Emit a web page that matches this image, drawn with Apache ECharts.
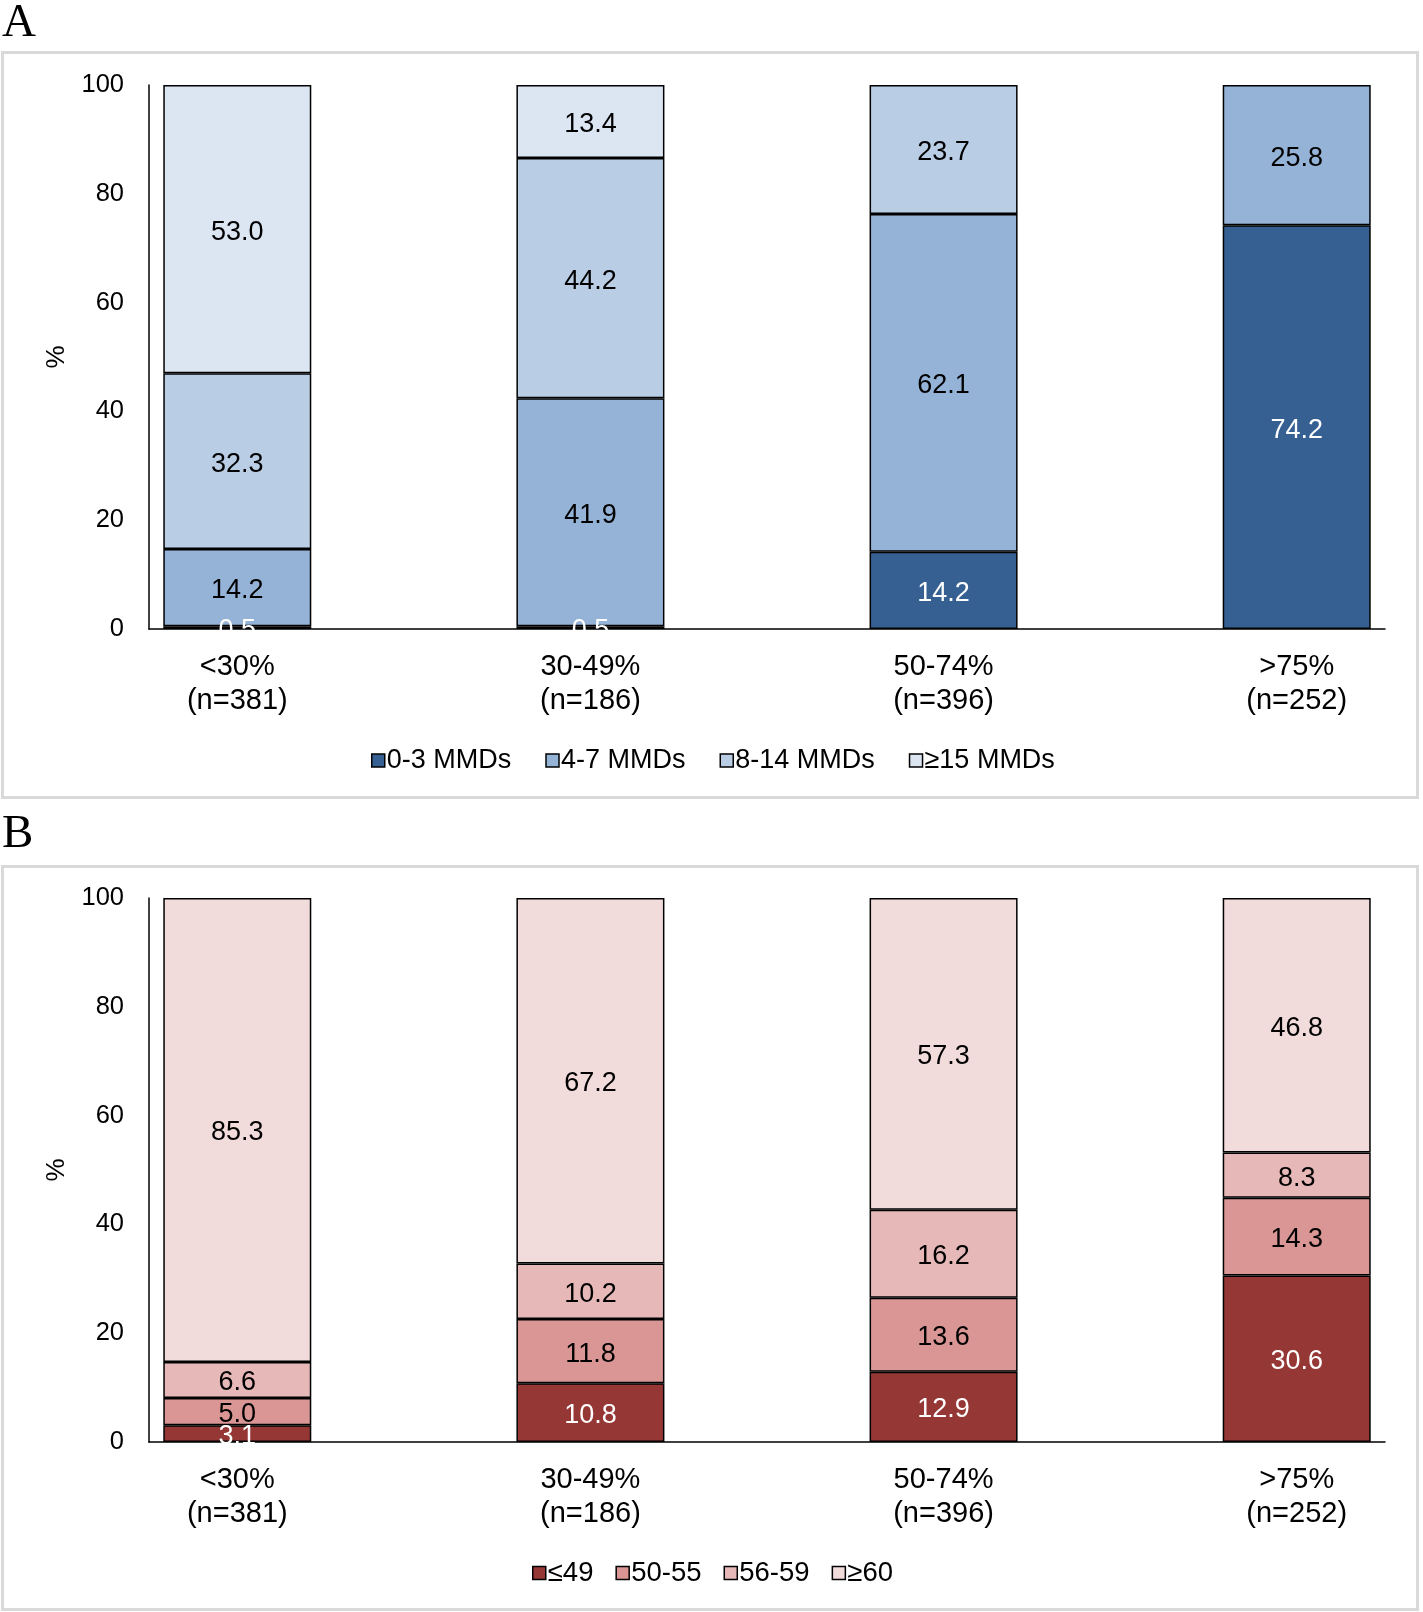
<!DOCTYPE html>
<html>
<head>
<meta charset="utf-8">
<script src="https://cdn.jsdelivr.net/npm/echarts@6/dist/echarts.min.js"></script>
<style>
html,body{margin:0;padding:0;background:#fff;}
#chart{width:1423px;height:1612px;}
</style>
</head>
<body>
<div id="chart"></div>
<script>
// ---- data ----
const categories = ['<30%\n(n=381)', '30-49%\n(n=186)', '50-74%\n(n=396)', '>75%\n(n=252)'];
const yTicks = [0, 20, 40, 60, 80, 100];

const namesA = ['0-3 MMDs', '4-7 MMDs', '8-14 MMDs', '≥15 MMDs'];
const valuesA_0to3   = [0.5, 0.5, 14.2, 74.2];
const valuesA_4to7   = [14.2, 41.9, 62.1, 25.8];
const valuesA_8to14  = [32.3, 44.2, 23.7, null];
const valuesA_15plus = [53.0, 13.4, null, null];

const namesB = ['≤49', '50-55', '56-59', '≥60'];
const valuesB_le49   = [3.1, 10.8, 12.9, 30.6];
const valuesB_50to55 = [5.0, 11.8, 13.6, 14.3];
const valuesB_56to59 = [6.6, 10.2, 16.2, 8.3];
const valuesB_ge60   = [85.3, 67.2, 57.3, 46.8];

// ---- styling ----
const colorsA = ['#376092', '#95B3D7', '#B9CDE5', '#DCE6F2'];
const colorsB = ['#953735', '#D99694', '#E6B9B8', '#F2DCDB'];
const labelColorsA = ['#fff', '#000', '#000', '#000'];
const labelColorsB = ['#fff', '#000', '#000', '#000'];
const FONT = 'Liberation Sans, Arial, sans-serif';

const chart = echarts.init(document.getElementById('chart'), null, {renderer: 'canvas'});

function makeSeries(names, valueLists, colors, labelColors, axisIndex, stackId) {
  return valueLists.map((vals, k) => ({
    type: 'bar',
    name: names[k],
    stack: stackId,
    xAxisIndex: axisIndex,
    yAxisIndex: axisIndex,
    barWidth: 148,
    // value first so that it is the stacked dimension; category position second
    data: vals.map((v, i) => [v, i]),
    encode: {x: 1, y: 0},
    itemStyle: {color: colors[k], borderColor: '#000', borderWidth: 1.5},
    label: {
      show: true,
      position: 'inside',
      offset: [0, 3],
      color: labelColors[k],
      fontFamily: FONT,
      fontSize: 27,
      formatter: p => (p.value[0] == null ? '' : Number(p.value[0]).toFixed(1))
    },
    emphasis: {disabled: true},
    animation: false
  }));
}

function xAxisCfg(gridIndex) {
  return {
    type: 'value',
    gridIndex: gridIndex,
    min: -0.25,
    max: 3.25,
    axisLine: {show: true, onZero: false, lineStyle: {color: '#000', width: 1.5}},
    axisTick: {show: false},
    splitLine: {show: false},
    axisLabel: {
      customValues: [0, 1, 2, 3],
      formatter: v => categories[Math.round(v)] || '',
      color: '#000',
      fontFamily: FONT,
      fontSize: 29,
      lineHeight: 34,
      margin: 21,
      showMinLabel: true,
      showMaxLabel: true
    }
  };
}

function yAxisCfg(gridIndex) {
  return {
    type: 'value',
    gridIndex: gridIndex,
    min: 0,
    max: 100,
    interval: 20,
    name: '%',
    nameLocation: 'middle',
    nameGap: 79,
    nameTextStyle: {color: '#000', fontFamily: FONT, fontSize: 26},
    axisLine: {show: true, onZero: false, lineStyle: {color: '#000', width: 1.5}},
    axisTick: {show: false},
    splitLine: {show: false},
    axisLabel: {
      customValues: yTicks,
      color: '#000',
      fontFamily: FONT,
      fontSize: 25.5,
      margin: 25
    }
  };
}

const option = {
  backgroundColor: '#fff',
  animation: false,
  title: [
    {text: 'A', left: 2, top: 0, padding: 0, textStyle: {fontFamily: 'Liberation Serif, Times New Roman, serif', fontSize: 47, fontWeight: 'normal', color: '#000'}},
    {text: 'B', left: 2, top: 811, padding: 0, textStyle: {fontFamily: 'Liberation Serif, Times New Roman, serif', fontSize: 47, fontWeight: 'normal', color: '#000'}}
  ],
  graphic: [
    {type: 'rect', shape: {x: 2.5, y: 52.5, width: 1415, height: 745}, style: {fill: 'none', stroke: '#d9d9d9', lineWidth: 3}, z: -1},
    {type: 'rect', shape: {x: 2.5, y: 866.5, width: 1415, height: 743}, style: {fill: 'none', stroke: '#d9d9d9', lineWidth: 3}, z: -1}
  ],
  grid: [
    {left: 149, top: 85, width: 1236, height: 544, containLabel: false},
    {left: 149, top: 898, width: 1236, height: 544, containLabel: false}
  ],
  legend: [
    {
      data: namesA, left: 366, top: 742, icon: 'rect', itemWidth: 13, itemHeight: 13, itemGap: 34,
      itemStyle: {borderColor: '#000', borderWidth: 1.5},
      textStyle: {fontFamily: FONT, fontSize: 27, color: '#000', padding: [0, 0, 0, -3]},
      selectedMode: false
    },
    {
      data: namesB, left: 527, top: 1554, icon: 'rect', itemWidth: 13, itemHeight: 13, itemGap: 22,
      itemStyle: {borderColor: '#000', borderWidth: 1.5},
      textStyle: {fontFamily: FONT, fontSize: 27.5, color: '#000', padding: [0, 0, 0, -3]},
      selectedMode: false
    }
  ],
  xAxis: [xAxisCfg(0), xAxisCfg(1)],
  yAxis: [yAxisCfg(0), yAxisCfg(1)],
  series: [
    ...makeSeries(namesA, [valuesA_0to3, valuesA_4to7, valuesA_8to14, valuesA_15plus], colorsA, labelColorsA, 0, 'A'),
    ...makeSeries(namesB, [valuesB_le49, valuesB_50to55, valuesB_56to59, valuesB_ge60], colorsB, labelColorsB, 1, 'B')
  ]
};
chart.setOption(option);
</script>
</body>
</html>
